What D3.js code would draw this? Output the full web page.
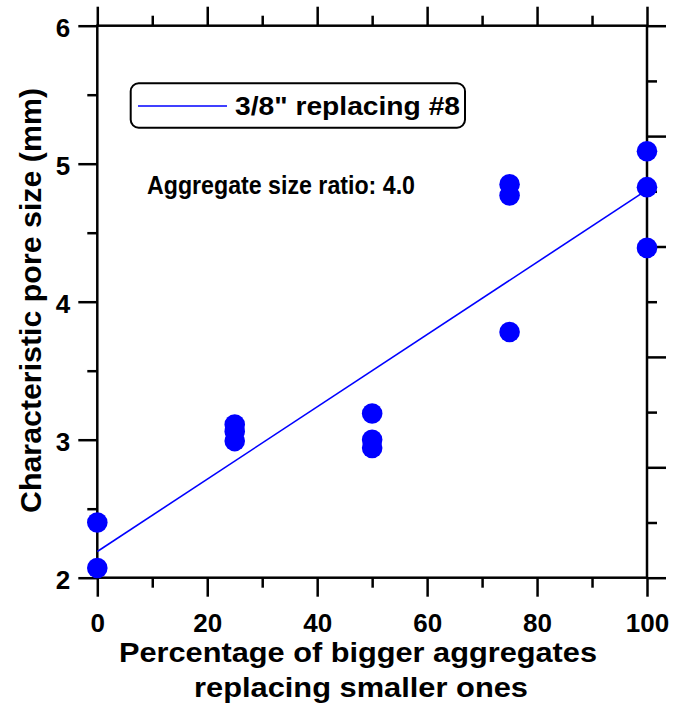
<!DOCTYPE html>
<html>
<head>
<meta charset="utf-8">
<script src="https://cdn.jsdelivr.net/npm/d3@7"></script>
<style>
  body { margin: 0; background: #fff; }
  text { font-family: "Liberation Sans", Arial, Helvetica, sans-serif; font-weight: bold; }
</style>
</head>
<body>
<div id="wrapper"></div>
<script>
const pctReplaced = [0, 0, 25, 25, 25, 50, 50, 50, 75, 75, 75, 100, 100, 100];
const poreSize = [2.07, 2.40, 3.11, 3.06, 2.99, 3.19, 3.00, 2.94, 4.85, 4.77, 3.78, 5.09, 4.83, 4.39];

// fitted line ends
const fitPct = [0, 100];
const fitPore = [2.19, 4.81];

const xMajorTicks = [0, 20, 40, 60, 80, 100];
const xMinorTicks = [10, 30, 50, 70, 90];
const yMajorTicks = [2, 3, 4, 5, 6];
const yMinorTicks = [2.5, 3.5, 4.5, 5.5];
const rightMajorTicks = [0, 1, 2, 3, 4, 5];
const rightMinorTicks = [0.5, 1.5, 2.5, 3.5, 4.5];

const legendLabel = "3/8\" replacing #8";
const noteLabel = "Aggregate size ratio: 4.0";
const xTitle = ["Percentage of bigger aggregates", "replacing smaller ones"];
const yTitle = "Characteristic pore size (mm)";

const dimension = {
    width: 675,
    height: 704,
    margin: { top: 25.7, left: 97.3, bottom: 704 - 577.7, right: 675 - 647 }
};
dimension.boundedWidth = dimension.width - dimension.margin.left - dimension.margin.right;
dimension.boundedHeight = dimension.height - dimension.margin.top - dimension.margin.bottom;

const svg = d3.select("#wrapper").append("svg")
    .attr("width", dimension.width)
    .attr("height", dimension.height);

const bounded = svg.append("g")
    .attr("transform", `translate(${dimension.margin.left},${dimension.margin.top})`);

const xScaler = d3.scaleLinear().domain([0, 100]).range([0, dimension.boundedWidth]);
const yScaler = d3.scaleLinear().domain([2, 6]).range([dimension.boundedHeight, 0]);
const yRightScaler = d3.scaleLinear().domain([0, 5]).range([dimension.boundedHeight, 0]);

const axisStroke = 2.5;
const majorLen = 19;
const minorLen = 10;

function styleAxis(g, labels) {
    g.select(".domain").remove();
    g.selectAll(".tick line").attr("stroke", "#000").attr("stroke-width", axisStroke);
    if (!labels) g.selectAll(".tick text").remove();
    g.selectAll(".tick text").attr("fill", "#000").style("font-size", "26px");
}

// bottom
bounded.append("g")
    .attr("transform", `translate(0,${dimension.boundedHeight})`)
    .call(d3.axisBottom(xScaler).tickValues(xMajorTicks).tickSize(majorLen).tickPadding(17).tickFormat(d3.format("d")))
    .call(g => styleAxis(g, true));
bounded.append("g")
    .attr("transform", `translate(0,${dimension.boundedHeight})`)
    .call(d3.axisBottom(xScaler).tickValues(xMinorTicks).tickSize(minorLen))
    .call(g => styleAxis(g, false));

// top
bounded.append("g")
    .call(d3.axisTop(xScaler).tickValues(xMajorTicks).tickSize(majorLen))
    .call(g => styleAxis(g, false));
bounded.append("g")
    .call(d3.axisTop(xScaler).tickValues(xMinorTicks).tickSize(minorLen))
    .call(g => styleAxis(g, false));

// left
bounded.append("g")
    .call(d3.axisLeft(yScaler).tickValues(yMajorTicks).tickSize(majorLen).tickPadding(8).tickFormat(d3.format("d")))
    .call(g => styleAxis(g, true))
    .call(g => g.selectAll(".tick text").attr("dy", "0.4em"));
bounded.append("g")
    .call(d3.axisLeft(yScaler).tickValues(yMinorTicks).tickSize(minorLen))
    .call(g => styleAxis(g, false));

// right, own scale, no labels
bounded.append("g")
    .attr("transform", `translate(${dimension.boundedWidth},0)`)
    .call(d3.axisRight(yRightScaler).tickValues(rightMajorTicks).tickSize(majorLen))
    .call(g => styleAxis(g, false));
bounded.append("g")
    .attr("transform", `translate(${dimension.boundedWidth},0)`)
    .call(d3.axisRight(yRightScaler).tickValues(rightMinorTicks).tickSize(minorLen))
    .call(g => styleAxis(g, false));

// frame
bounded.append("rect")
    .attr("width", dimension.boundedWidth)
    .attr("height", dimension.boundedHeight)
    .attr("fill", "none")
    .attr("stroke", "#000")
    .attr("stroke-width", axisStroke);

// fit line
const fitData = fitPct.map((p, i) => ({ p: p, v: fitPore[i] }));
const lineGenerator = d3.line()
    .x(d => xScaler(d.p))
    .y(d => yScaler(d.v));
bounded.append("path")
    .attr("d", lineGenerator(fitData))
    .attr("fill", "none")
    .attr("stroke", "#0000ff")
    .attr("stroke-width", 1.6);

// points
const points = pctReplaced.map((p, i) => ({ p: p, v: poreSize[i] }));
bounded.selectAll("circle.pt")
    .data(points)
    .join("circle")
    .attr("class", "pt")
    .attr("cx", d => xScaler(d.p))
    .attr("cy", d => yScaler(d.v))
    .attr("r", 10.3)
    .attr("fill", "#0000ff");

// legend
svg.append("rect")
    .attr("x", 130.7).attr("y", 83.3)
    .attr("width", 334.3).attr("height", 44.4)
    .attr("rx", 8).attr("ry", 8)
    .attr("fill", "#fff")
    .attr("stroke", "#000")
    .attr("stroke-width", 2);
svg.append("line")
    .attr("x1", 138).attr("x2", 227)
    .attr("y1", 106).attr("y2", 106)
    .attr("stroke", "#0000ff")
    .attr("stroke-width", 1.6);
svg.append("text")
    .attr("x", 235).attr("y", 115)
    .attr("textLength", 225).attr("lengthAdjust", "spacingAndGlyphs")
    .style("font-size", "25px")
    .text(legendLabel);

svg.append("text")
    .attr("x", 147).attr("y", 193.5)
    .attr("textLength", 268).attr("lengthAdjust", "spacingAndGlyphs")
    .style("font-size", "25px")
    .text(noteLabel);

// axis titles
svg.append("text")
    .attr("x", 358).attr("y", 662)
    .attr("text-anchor", "middle")
    .attr("textLength", 478).attr("lengthAdjust", "spacingAndGlyphs")
    .style("font-size", "28px")
    .text(xTitle[0]);
svg.append("text")
    .attr("x", 361).attr("y", 697)
    .attr("text-anchor", "middle")
    .attr("textLength", 334).attr("lengthAdjust", "spacingAndGlyphs")
    .style("font-size", "28px")
    .text(xTitle[1]);

svg.append("text")
    .attr("transform", "translate(41,300.5) rotate(-90)")
    .attr("text-anchor", "middle")
    .attr("textLength", 425).attr("lengthAdjust", "spacingAndGlyphs")
    .style("font-size", "30px")
    .text(yTitle);
</script>
</body>
</html>
